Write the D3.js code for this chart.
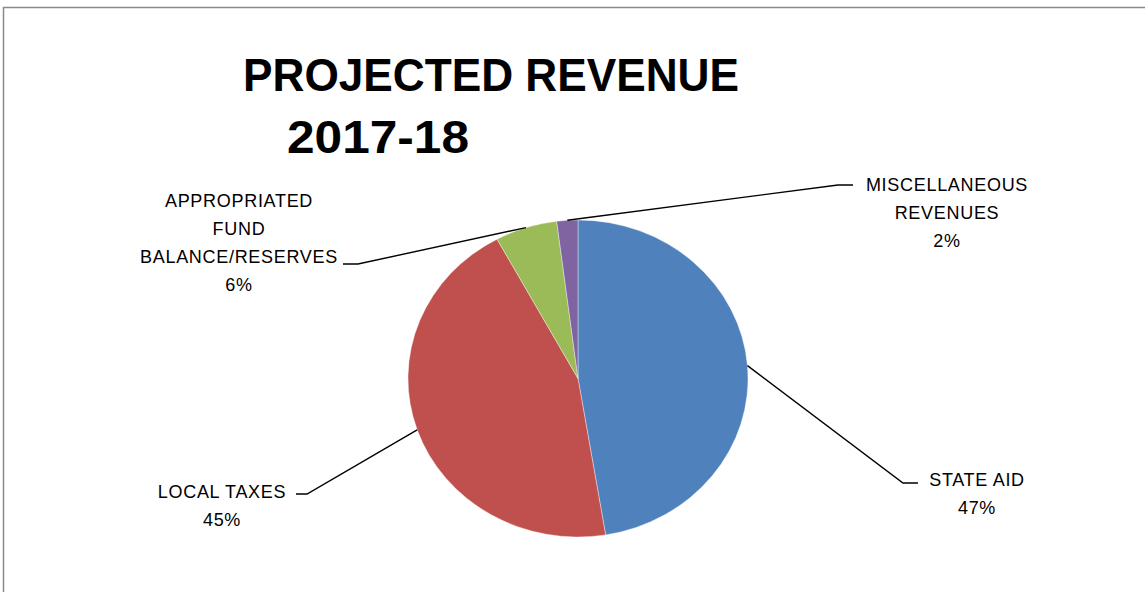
<!DOCTYPE html>
<html>
<head>
<meta charset="utf-8">
<script src="https://cdn.jsdelivr.net/npm/d3@7/dist/d3.min.js"></script>
<style>
  html, body { margin: 0; padding: 0; background: #fff; }
  svg { display: block; }
  text { font-family: "Liberation Sans", Arial, sans-serif; fill: #000; }
</style>
</head>
<body>
<svg id="chart" width="1145" height="592"></svg>
<script>
// ---- data ----
const categories = ["STATE AID", "LOCAL TAXES", "APPROPRIATED FUND BALANCE/RESERVES", "MISCELLANEOUS REVENUES"];
const labelLines = [["STATE AID"], ["LOCAL TAXES"], ["APPROPRIATED", "FUND", "BALANCE/RESERVES"], ["MISCELLANEOUS", "REVENUES"]];
const values = [47.4, 44.7, 5.9, 2.0];
const colors = ["#4F81BD", "#C0504D", "#9BBB59", "#8064A2"];
const titleLines = ["PROJECTED REVENUE", "2017-18"];

// ---- layout ----
const W = 1145, H = 592;
const cx = 578, cy = 378.5, rx = 170, ry = 158.5;
// elbow point, end of horizontal stub, label anchor (center x, first-line y)
const leader = [
  { elbow: [903, 483], stub: [918, 483], lx: 977, ly: 480, anchor: "middle" },
  { elbow: [307, 494], stub: [296, 494], lx: 222, ly: 492, anchor: "middle" },
  { elbow: [358, 264], stub: [343, 264], lx: 239, ly: 201, anchor: "middle" },
  { elbow: [838, 185], stub: [853, 185], lx: 947, ly: 185, anchor: "middle" }
];
const lineH = 28;

const svg = d3.select("#chart");

// frame
svg.append("rect")
  .attr("x", 3.5).attr("y", 7.5)
  .attr("width", W + 20).attr("height", H + 20)
  .attr("fill", "#fff")
  .attr("stroke", "#8a8a8a")
  .attr("stroke-width", 1.5);

// title
const title = svg.append("g");
title.append("text")
  .attr("x", 243).attr("y", 91)
  .attr("font-size", 46).attr("font-weight", "bold")
  .attr("textLength", 496).attr("lengthAdjust", "spacingAndGlyphs")
  .text(titleLines[0]);
title.append("text")
  .attr("x", 287).attr("y", 153)
  .attr("font-size", 46).attr("font-weight", "bold")
  .attr("textLength", 182).attr("lengthAdjust", "spacingAndGlyphs")
  .text(titleLines[1]);

// pie
const pie = d3.pie().sort(null).value(d => d)(values);
const arc = d3.arc().innerRadius(0).outerRadius(rx);
const pieG = svg.append("g")
  .attr("transform", `translate(${cx},${cy}) scale(1,${ry / rx})`);
pieG.selectAll("path")
  .data(pie)
  .join("path")
  .attr("d", arc)
  .attr("fill", (d, i) => colors[i])
  .attr("stroke", "#ffffff")
  .attr("stroke-width", 0.4);

// leader lines
const total = d3.sum(values);
pie.forEach((d, i) => {
  const a = (d.startAngle + d.endAngle) / 2;
  const sx = cx + rx * Math.sin(a);
  const sy = cy - ry * Math.cos(a);
  const L = leader[i];
  svg.append("polyline")
    .attr("points", [[sx, sy], L.elbow, L.stub].map(p => p.join(",")).join(" "))
    .attr("fill", "none")
    .attr("stroke", "#000")
    .attr("stroke-width", 1.4);

  const lines = labelLines[i].concat([Math.round(values[i] / total * 100) + "%"]);
  const t = svg.append("text")
    .attr("text-anchor", L.anchor)
    .attr("font-size", 18)
    .attr("dominant-baseline", "central");
  lines.forEach((s, k) => {
    t.append("tspan")
      .attr("x", L.lx)
      .attr("y", L.ly + k * lineH)
      .attr("letter-spacing", 0.7)
      .text(s);
  });
});
</script>
</body>
</html>
